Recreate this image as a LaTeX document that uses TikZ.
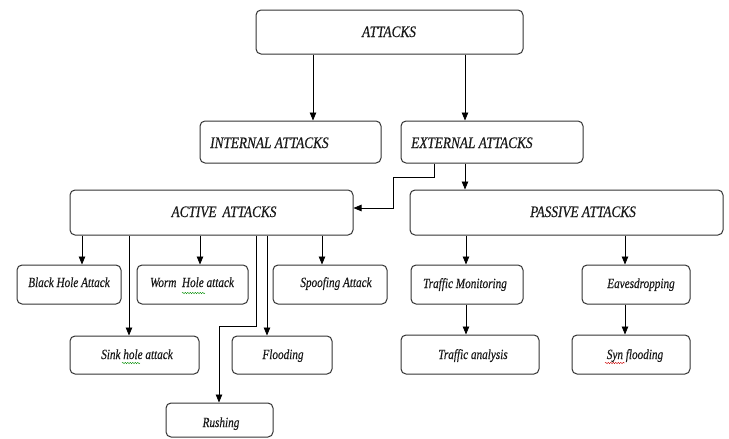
\documentclass[tikz,border=0pt]{standalone}
\usepackage{fontspec}
\newfontfamily\lblfont{Liberation Serif Italic}[FakeStretch=0.8, FakeBold=0.4]
\newfontfamily\bigfont{Liberation Serif Italic}[FakeStretch=0.83, FakeBold=0.4]
\usetikzlibrary{arrows.meta,fit,decorations.pathmorphing}
\begin{document}
\begin{tikzpicture}[x=1pt,y=-1pt,
  box/.style={draw=black!80, line width=1pt, rounded corners=5pt, inner sep=0pt},
  big/.style={font=\bigfont\fontsize{16}{18}\selectfont, inner sep=0pt, text=black!90},
  small/.style={font=\lblfont\fontsize{14}{16}\selectfont, inner sep=0pt, text=black!90},
  arr/.style={draw=black, line width=0.8pt, -{Triangle[length=8pt,width=6.5pt]}},
  squig/.style={decorate, decoration={snake, amplitude=0.7pt, segment length=2.5pt}, line width=0.4pt}]
\useasboundingbox (0,0) rectangle (729,439);

% boxes
\node[box, fit={(256,10) (523,54)}]   (attacks)  {};
\node[box, fit={(200,121) (381,163)}] (internal) {};
\node[box, fit={(401,121) (583,163)}] (external) {};
\node[box, fit={(70,190) (353,235)}]  (active)   {};
\node[box, fit={(410,190) (723,235)}] (passive)  {};
\node[box, fit={(17,265) (121,304)}]  (blackhole) {};
\node[box, fit={(137,265) (248,304)}] (wormhole) {};
\node[box, fit={(273,265) (387,304)}] (spoofing) {};
\node[box, fit={(70,336) (199,374)}]  (sinkhole) {};
\node[box, fit={(232,336) (332,374)}] (flooding) {};
\node[box, fit={(166,403) (273,437)}] (rushing)  {};
\node[box, fit={(411,265) (523,304)}] (trafmon)  {};
\node[box, fit={(582,265) (690,304)}] (eaves)    {};
\node[box, fit={(401,335) (539,374)}] (trafan)   {};
\node[box, fit={(572,335) (690,374)}] (synflood) {};

% labels
\node[big, anchor=base] (tattacks) at (389,37) {ATTACKS};
\node[big, anchor=base west] (tinternal) at (210,148) {INTERNAL ATTACKS};
\node[big, anchor=base west] (texternal) at (411,148) {EXTERNAL ATTACKS};
\node[big, anchor=base] (tactive) at (224,217) {ACTIVE\, ATTACKS};
\node[big, anchor=base] (tpassive) at (583,217) {PASSIVE ATTACKS};
\node[small, anchor=base] (tblack) at (69,287) {Black Hole Attack};
\node[small, anchor=base] (tworm) at (192,287) {Worm\ \ Hole attack};
\node[small, anchor=base] (tspoof) at (336,287) {Spoofing Attack};
\node[small, anchor=base] (tsink) at (137,359) {Sink hole attack};
\node[small, anchor=base] (tflood) at (283,359) {Flooding};
\node[small, anchor=base] (trush) at (221,427) {Rushing};
\node[small, anchor=base] (tmon) at (465,288) {Traffic Monitoring};
\node[small, anchor=base] (teaves) at (641,288) {Eavesdropping};
\node[small, anchor=base] (tan) at (473,359) {Traffic analysis};
\node[small, anchor=base] (tsyn) at (635,359) {Syn flooding};

% spelling marks under words
\draw[squig, green!55!black] (182,293) -- (205,293);
\draw[squig, green!55!black] (122,363) -- (140,363);
\draw[squig, red!80!black] (605,363) -- (625,363);

% column positions for connectors
\coordinate (c82) at (82,0);
\coordinate (c129) at (129,0);
\coordinate (c200) at (200,0);
\coordinate (c256) at (256,0);
\coordinate (c267) at (267,0);
\coordinate (c313) at (313,0);
\coordinate (c322) at (322,0);
\coordinate (c434) at (434,0);
\coordinate (c465) at (465,0);
\coordinate (c466) at (466,0);
\coordinate (c625) at (625,0);
\coordinate (bend1) at (393,177);
\coordinate (bend2) at (219,326);

% connectors
\draw[arr] (attacks.south -| c313) -- (internal.north -| c313);
\draw[arr] (attacks.south -| c465) -- (external.north -| c465);
\draw[arr] (external.south -| c434) |- (bend1) |- (active.east |- 0,208);
\draw[arr] (external.south -| c465) -- (passive.north -| c465);

\draw[arr] (active.south -| c82) -- (blackhole.north -| c82);
\draw[arr] (active.south -| c200) -- (wormhole.north -| c200);
\draw[arr] (active.south -| c322) -- (spoofing.north -| c322);
\draw[arr] (active.south -| c129) -- (sinkhole.north -| c129);
\draw[arr] (active.south -| c267) -- (flooding.north -| c267);
\draw[arr] (active.south -| c256) |- (bend2) -- (rushing.north -| bend2);

\draw[arr] (passive.south -| c466) -- (trafmon.north -| c466);
\draw[arr] (passive.south -| c625) -- (eaves.north -| c625);
\draw[arr] (trafmon.south -| c466) -- (trafan.north -| c466);
\draw[arr] (eaves.south -| c625) -- (synflood.north -| c625);
\end{tikzpicture}
\end{document}
